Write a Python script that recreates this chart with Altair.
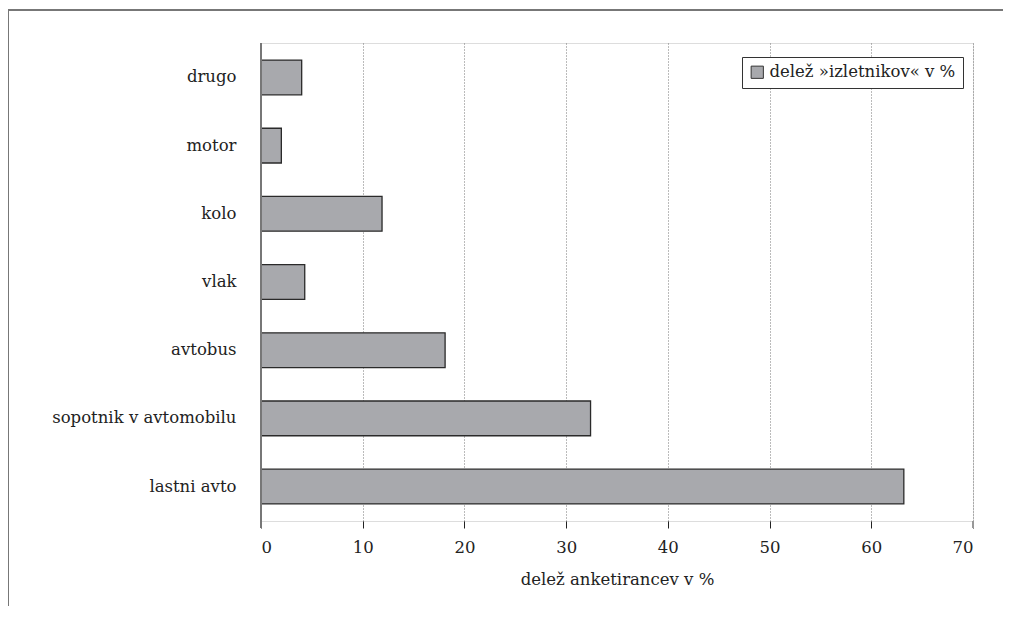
import altair as alt
import pandas as pd

categories = ["drugo", "motor", "kolo", "vlak", "avtobus", "sopotnik v avtomobilu", "lastni avto"]
values = [4.0, 2.0, 11.9, 4.3, 18.1, 32.4, 63.2]
series_name = "delež »izletnikov« v %"
x_title = "delež anketirancev v %"
x_ticks = [0, 10, 20, 30, 40, 50, 60, 70]

df = pd.DataFrame({"kategorija": categories, "delez": values, "serija": [series_name] * len(categories)})

FONT = "DejaVu Serif"
FS = 16.5
W, H = 712, 478

bars = alt.Chart(df).mark_bar(stroke="#2a2a2a", strokeWidth=1.3).encode(
    y=alt.Y("kategorija:N", sort=categories, title=None,
            scale=alt.Scale(paddingInner=0.49, paddingOuter=0.25),
            axis=alt.Axis(ticks=False, domain=False, labelPadding=25, labelFontSize=FS,
                          labelFont=FONT, labelColor="#222", grid=False, labelLimit=400)),
    x=alt.X("delez:Q", title=x_title,
            scale=alt.Scale(domain=[0, 70], nice=False),
            axis=alt.Axis(values=x_ticks, grid=True, gridDash=[1, 2], gridColor="#777",
                          gridWidth=1, domain=False, tickColor="#222", tickSize=7,
                          labelPadding=11, labelFontSize=FS, labelFont=FONT, labelColor="#222",
                          titleFont=FONT, titleFontSize=FS, titleFontWeight="normal",
                          titleColor="#222", titlePadding=16)),
    color=alt.Color("serija:N", scale=alt.Scale(range=["#a8a9ad"]),
                    legend=alt.Legend(title=None, orient="none", legendX=481, legendY=14,
                                      fillColor="white", strokeColor="#333",
                                      padding=7, symbolType="square", symbolSize=150,
                                      symbolStrokeColor="#333", symbolStrokeWidth=1,
                                      labelFont=FONT, labelFontSize=FS, labelColor="#222",
                                      labelOffset=4, labelLimit=400)),
)

frame_top = alt.Chart(df).mark_rule(color="#777", strokeWidth=1.5).encode(
    x=alt.value(-253), x2=alt.value(760), y=alt.value(-33)
)
frame_left = alt.Chart(df).mark_rule(color="#777", strokeWidth=1.5).encode(
    x=alt.value(-253), y=alt.value(-33), y2=alt.value(600)
)
left_edge = alt.Chart(df).mark_rule(color="#777", strokeWidth=2).encode(
    x=alt.value(0), y=alt.value(0), y2=alt.value(H + 7)
)
right_edge = alt.Chart(df).mark_rule(color="#999", strokeWidth=1.5).encode(
    x=alt.value(W), y=alt.value(H), y2=alt.value(H + 7)
)

chart = alt.layer(bars, left_edge, right_edge, frame_top, frame_left).properties(
    width=W, height=H,
    autosize=alt.AutoSizeParams(type="none"),
    padding={"left": 253, "top": 35, "right": 30, "bottom": 85},
).configure_view(
    fill="#ededed", stroke="#333", strokeWidth=1.2
).configure(background="white", font=FONT)

chart.save("out.html", embed_options={"renderer": "svg", "actions": False})
